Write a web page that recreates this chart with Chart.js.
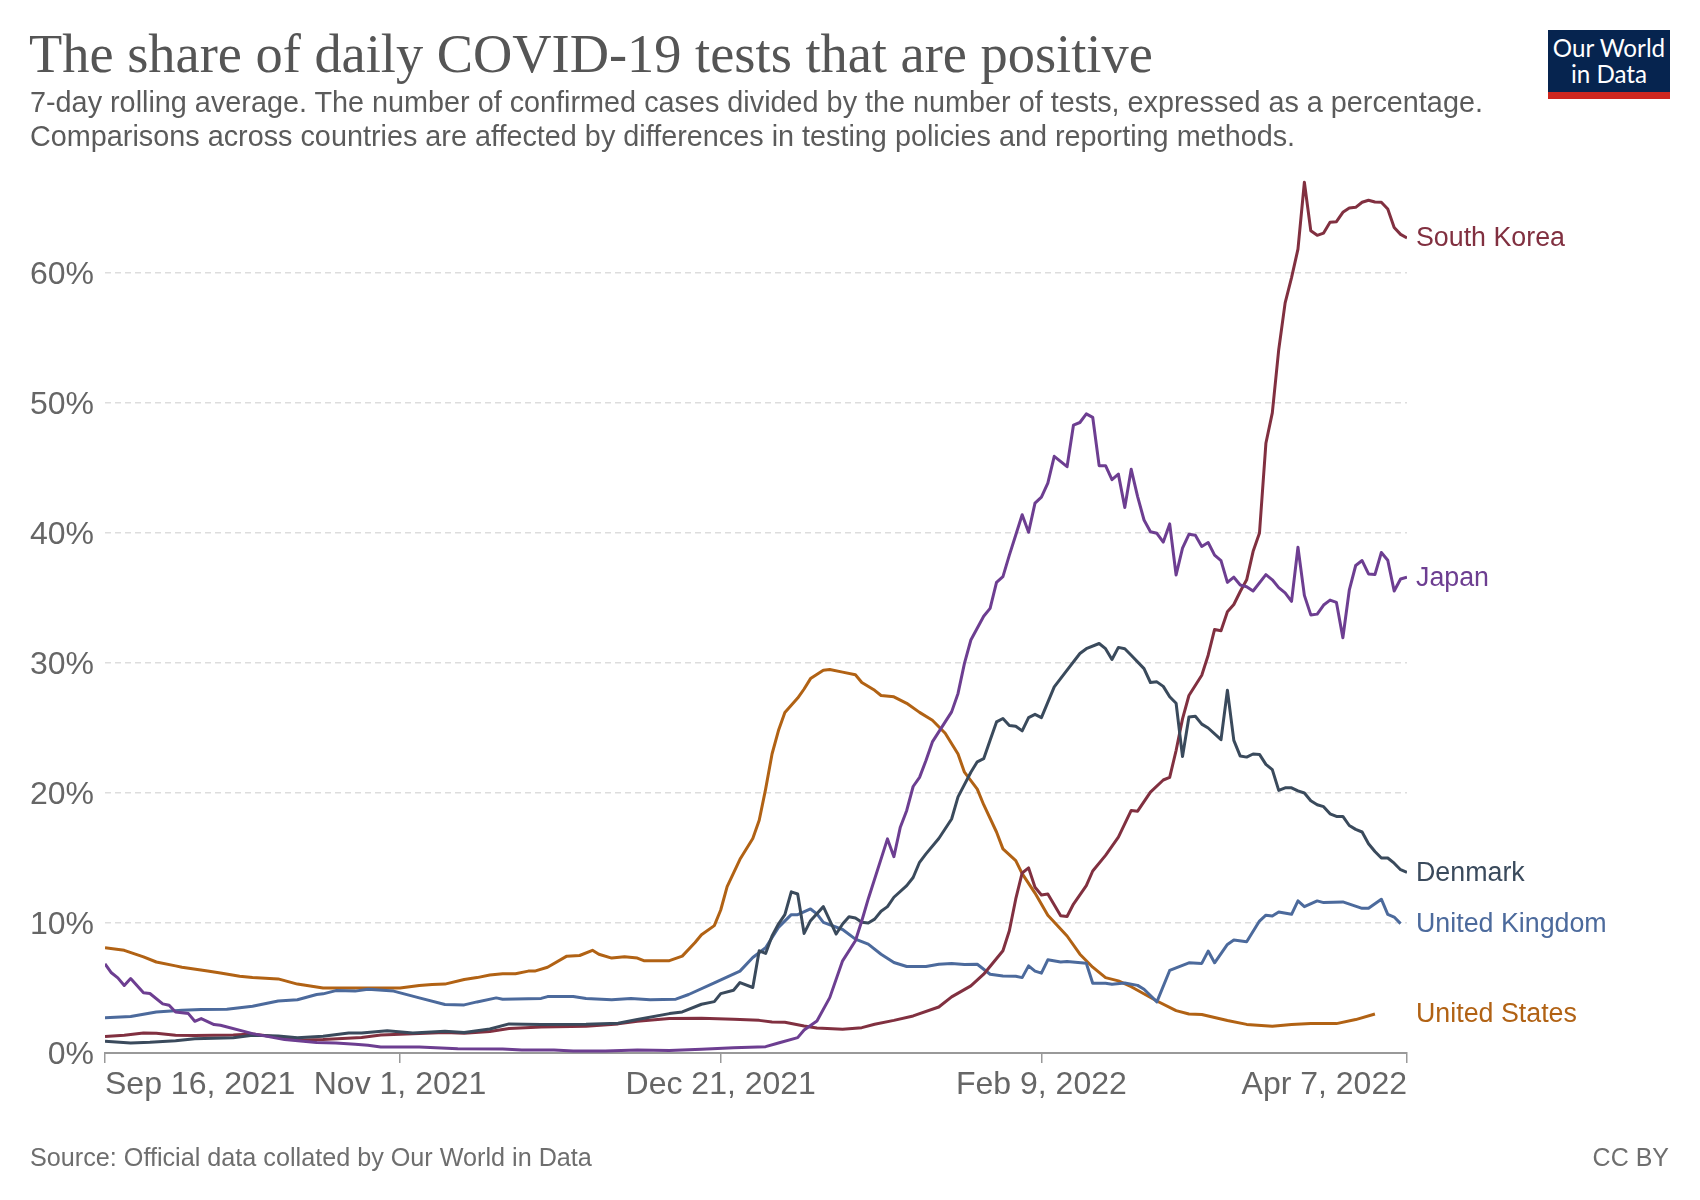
<!DOCTYPE html>
<html>
<head>
<meta charset="utf-8">
<title>The share of daily COVID-19 tests that are positive</title>
<script src="https://cdn.jsdelivr.net/npm/chart.js@4/dist/chart.umd.min.js"></script>
<style>
  body { margin: 0; background: #fff; font-family: "Liberation Sans", Arial, sans-serif; }
  #wrap { position: relative; width: 1700px; height: 1200px; overflow: hidden; }
  #wrap div { position: absolute; white-space: nowrap; }
  #chart { position: absolute; left: 0; top: 0; }
  #title { left: 29px; top: 24px; font: 54.4px/60px "Liberation Serif", serif; color: #555; }
  .sub { left: 30px; font-size: 28.8px; line-height: 34px; color: #5b5b5b; }
  #logo { left: 1548px; top: 30px; width: 122px; height: 69px; background: #06244f; }
  #logo-text { left: 0; top: 5px; width: 122px; text-align: center; color: #fff; font-family: Lato, sans-serif; font-size: 24.2px; line-height: 26px; }
  #logo-bar { left: 0; top: 62px; width: 122px; height: 7px; background: #ce261e; }
  #source { left: 30px; top: 1142px; font-size: 25.2px; line-height: 30px; color: #6e6e6e; }
  #license { right: 31px; top: 1142px; font-size: 25px; line-height: 30px; color: #6e6e6e; }
</style>
</head>
<body>
<div id="wrap">
  <canvas id="chart" width="1700" height="1200"></canvas>
  <div id="title">The share of daily COVID-19 tests that are positive</div>
  <div class="sub" style="top:85px">7-day rolling average. The number of confirmed cases divided by the number of tests, expressed as a percentage.</div>
  <div class="sub" style="top:119px">Comparisons across countries are affected by differences in testing policies and reporting methods.</div>
  <div id="logo">
    <div id="logo-text">Our World<br>in Data</div>
    <div id="logo-bar"></div>
  </div>
  <div id="source">Source: Official data collated by Our World in Data</div>
  <div id="license">CC BY</div>
</div>
<script>
// x values are days since Sep 16, 2021
const tickDays = [0, 46, 96, 146, 203];
const tickLabels = ["Sep 16, 2021", "Nov 1, 2021", "Dec 21, 2021", "Feb 9, 2022", "Apr 7, 2022"];
const yTicks = [0, 10, 20, 30, 40, 50, 60];

const japanDays = [0, 1, 2, 3, 4, 6, 7, 9, 10, 11, 13, 14, 15, 17, 18, 23, 28, 33, 36, 39, 41, 43, 49, 55, 62, 65, 70, 73, 78, 83, 88, 93, 98, 103, 105, 108, 109, 111, 113, 115, 117, 118, 119, 122, 123, 124, 125, 126, 127, 128, 129, 132, 133, 134, 135, 137, 138, 139, 140, 141, 142, 143, 144, 145, 146, 147, 148, 150, 151, 152, 153, 154, 155, 156, 157, 158, 159, 160, 161, 162, 163, 164, 165, 166, 167, 168, 169, 170, 171, 172, 173, 174, 175, 176, 177, 178, 179, 181, 182, 183, 184, 185, 186, 187, 188, 189, 190, 191, 192, 193, 194, 195, 196, 197, 198, 199, 200, 201, 202, 203];
const japanValues = [6.86, 6.17, 5.78, 5.19, 5.73, 4.63, 4.58, 3.78, 3.68, 3.16, 3.03, 2.44, 2.65, 2.19, 2.13, 1.49, 1.03, 0.8, 0.77, 0.67, 0.59, 0.46, 0.46, 0.33, 0.31, 0.23, 0.23, 0.15, 0.15, 0.23, 0.2, 0.28, 0.41, 0.49, 0.77, 1.18, 1.77, 2.46, 4.26, 7.09, 8.63, 10.17, 11.85, 16.47, 15.1, 17.37, 18.66, 20.5, 21.2, 22.5, 23.93, 26.24, 27.66, 29.97, 31.77, 33.6, 34.2, 36.2, 36.64, 38.3, 39.85, 41.4, 40.06, 42.3, 42.76, 43.84, 45.9, 45.1, 48.3, 48.5, 49.16, 48.9, 45.18, 45.18, 44.1, 44.53, 41.96, 44.9, 42.8, 41, 40.1, 39.98, 39.3, 40.7, 36.77, 38.83, 39.9, 39.83, 38.96, 39.27, 38.3, 37.88, 36.2, 36.6, 36, 35.87, 35.54, 36.8, 36.4, 35.8, 35.4, 34.74, 38.9, 35.2, 33.7, 33.76, 34.46, 34.84, 34.66, 31.94, 35.6, 37.5, 37.88, 36.85, 36.8, 38.5, 37.9, 35.54, 36.46, 36.6];

const denmarkDays = [0, 4, 7, 11, 14, 20, 23, 27, 30, 34, 38, 40, 44, 48, 53, 56, 60, 63, 68, 75, 80, 83, 88, 90, 93, 95, 96, 98, 99, 101, 102, 103, 104, 105, 106, 107, 108, 109, 110, 112, 114, 115, 116, 117, 118, 119, 120, 121, 122, 123, 125, 126, 127, 128, 130, 132, 133, 135, 136, 137, 138, 139, 140, 141, 142, 143, 144, 145, 146, 148, 150, 152, 153, 155, 156, 157, 158, 159, 160, 162, 163, 164, 165, 166, 167, 168, 169, 170, 171, 172, 174, 175, 176, 177, 178, 179, 180, 181, 182, 183, 184, 185, 186, 187, 188, 189, 190, 191, 192, 193, 194, 195, 196, 197, 198, 199, 200, 201, 202, 203];
const denmarkValues = [0.9, 0.77, 0.82, 0.95, 1.1, 1.18, 1.36, 1.31, 1.18, 1.29, 1.54, 1.54, 1.72, 1.54, 1.67, 1.57, 1.85, 2.24, 2.19, 2.21, 2.29, 2.57, 3.03, 3.16, 3.75, 3.95, 4.57, 4.83, 5.42, 5.04, 7.86, 7.66, 9, 9.92, 10.64, 12.4, 12.23, 9.2, 10.18, 11.26, 9.15, 9.92, 10.48, 10.38, 10.05, 10, 10.3, 10.9, 11.26, 11.98, 12.87, 13.5, 14.67, 15.32, 16.5, 18, 19.7, 21.6, 22.4, 22.64, 24.06, 25.47, 25.73, 25.2, 25.14, 24.78, 25.8, 26.05, 25.8, 28.16, 29.45, 30.73, 31.1, 31.5, 31.1, 30.27, 31.2, 31.1, 30.6, 29.57, 28.5, 28.55, 28.2, 27.4, 26.9, 22.8, 25.85, 25.9, 25.3, 25, 24.1, 27.9, 24.05, 22.84, 22.76, 23, 22.97, 22.2, 21.8, 20.2, 20.4, 20.4, 20.16, 20, 19.4, 19.1, 18.95, 18.4, 18.2, 18.2, 17.5, 17.2, 17, 16.1, 15.5, 15, 15, 14.6, 14.1, 13.9];

const koreaDays = [0, 3, 6, 8, 11, 14, 20, 23, 28, 31, 34, 40, 43, 48, 53, 56, 60, 63, 68, 75, 80, 83, 88, 93, 98, 102, 104, 106, 109, 111, 115, 118, 120, 123, 126, 130, 132, 135, 137, 140, 141, 142, 143, 144, 145, 146, 147, 149, 150, 151, 153, 154, 156, 158, 160, 161, 163, 165, 166, 167, 168, 169, 171, 172, 173, 174, 175, 176, 177, 178, 179, 180, 181, 182, 183, 184, 185, 186, 187, 188, 189, 190, 191, 192, 193, 194, 195, 196, 197, 198, 199, 200, 201, 202, 203];
const koreaValues = [1.26, 1.36, 1.54, 1.52, 1.36, 1.34, 1.39, 1.47, 1.16, 1, 1.03, 1.2, 1.39, 1.49, 1.57, 1.52, 1.65, 1.88, 2, 2.06, 2.24, 2.44, 2.65, 2.67, 2.59, 2.51, 2.39, 2.36, 2.08, 1.93, 1.82, 1.95, 2.21, 2.51, 2.85, 3.54, 4.32, 5.16, 6.06, 7.86, 9.4, 11.85, 13.85, 14.24, 12.75, 12.16, 12.23, 10.56, 10.5, 11.46, 12.87, 14, 15.2, 16.6, 18.66, 18.6, 20.07, 21, 21.2, 23.27, 25.7, 27.5, 29.06, 30.6, 32.58, 32.48, 33.94, 34.5, 35.5, 36.4, 38.57, 40, 46.9, 49.24, 54.1, 57.7, 59.65, 61.84, 66.98, 63.25, 62.9, 63.07, 63.9, 63.95, 64.67, 65, 65.05, 65.44, 65.6, 65.46, 65.44, 64.92, 63.5, 62.97, 62.7];

const ukDays = [0, 4, 8, 12, 15, 19, 23, 27, 30, 33, 34, 36, 39, 41, 45, 49, 53, 56, 58, 61, 62, 68, 69, 73, 75, 79, 82, 85, 89, 91, 95, 99, 101, 103, 105, 107, 108, 110, 111, 112, 115, 117, 119, 121, 123, 125, 128, 130, 132, 134, 136, 138, 140, 142, 143, 144, 145, 146, 147, 149, 150, 153, 154, 156, 157, 159, 161, 162, 164, 166, 169, 171, 172, 173, 175, 176, 178, 180, 181, 182, 183, 185, 186, 187, 189, 190, 193, 196, 197, 199, 200, 201, 202];
const ukValues = [2.72, 2.8, 3.16, 3.29, 3.34, 3.37, 3.6, 4, 4.1, 4.5, 4.55, 4.8, 4.76, 4.9, 4.76, 4.24, 3.73, 3.7, 3.93, 4.24, 4.14, 4.2, 4.34, 4.34, 4.2, 4.1, 4.2, 4.09, 4.14, 4.5, 5.4, 6.3, 7.35, 8.1, 9.66, 10.64, 10.64, 11.08, 10.7, 10.05, 9.5, 8.76, 8.37, 7.6, 6.96, 6.65, 6.65, 6.83, 6.88, 6.8, 6.83, 6.06, 5.93, 5.9, 5.8, 6.7, 6.3, 6.14, 7.17, 7, 7.04, 6.9, 5.37, 5.37, 5.29, 5.39, 5.2, 4.9, 3.93, 6.35, 6.94, 6.89, 7.84, 6.94, 8.35, 8.69, 8.56, 10.15, 10.6, 10.54, 10.85, 10.67, 11.7, 11.26, 11.7, 11.57, 11.62, 11.13, 11.13, 11.83, 10.67, 10.46, 9.95];

const usDays = [0, 3, 6, 8, 11, 12, 16, 18, 21, 23, 27, 30, 34, 39, 43, 46, 49, 51, 53, 56, 58, 60, 62, 64, 66, 67, 69, 72, 74, 76, 77, 79, 81, 83, 84, 88, 90, 92, 93, 95, 96, 97, 99, 101, 102, 103, 104, 105, 106, 108, 109, 110, 112, 113, 115, 117, 118, 120, 121, 123, 125, 127, 129, 131, 133, 134, 136, 137, 139, 140, 142, 143, 145, 147, 150, 152, 154, 156, 158, 160, 164, 167, 169, 171, 175, 178, 182, 185, 188, 192, 195, 198];
const usValues = [8.1, 7.9, 7.4, 7, 6.7, 6.6, 6.3, 6.15, 5.9, 5.8, 5.7, 5.3, 5, 5, 5, 5, 5.2, 5.27, 5.3, 5.65, 5.8, 6, 6.1, 6.1, 6.3, 6.3, 6.6, 7.45, 7.5, 7.9, 7.6, 7.3, 7.4, 7.3, 7.1, 7.1, 7.45, 8.5, 9.1, 9.8, 11, 12.8, 14.9, 16.5, 17.9, 20.3, 23, 24.8, 26.2, 27.3, 28, 28.8, 29.45, 29.5, 29.3, 29.1, 28.5, 27.9, 27.5, 27.4, 26.9, 26.2, 25.6, 24.6, 23, 21.6, 20.3, 19.1, 17, 15.7, 14.8, 13.8, 12.3, 10.6, 9, 7.6, 6.6, 5.8, 5.55, 5.1, 4, 3.26, 3, 2.96, 2.5, 2.2, 2.06, 2.19, 2.26, 2.26, 2.57, 3];

const names = ["Japan", "Denmark", "South Korea", "United Kingdom", "United States"];
const colors = ["#6d3e91", "#3a4a5c", "#813040", "#4c6a9c", "#b16214"];

function toPoints(days, values) {
  return days.map((d, i) => ({ x: d, y: values[i] }));
}

const allSeries = [
  toPoints(japanDays, japanValues),
  toPoints(denmarkDays, denmarkValues),
  toPoints(koreaDays, koreaValues),
  toPoints(ukDays, ukValues),
  toPoints(usDays, usValues)
];

// axis labels need their own alignment, and the series names follow the last value
const labelsPlugin = {
  id: "labels",
  afterDraw(chart) {
    const { ctx, chartArea, scales } = chart;
    ctx.save();
    ctx.font = '32px "Liberation Sans"';
    ctx.fillStyle = "#666";
    ctx.textBaseline = "alphabetic";
    tickDays.forEach((d, i) => {
      ctx.textAlign = i === 0 ? "left" : i === tickDays.length - 1 ? "right" : "center";
      ctx.fillText(tickLabels[i], scales.x.getPixelForValue(d), 1094);
    });
    ctx.textAlign = "right";
    yTicks.forEach((v) => {
      ctx.fillText(v + "%", chartArea.left - 11, scales.y.getPixelForValue(v) + 11);
    });
    ctx.font = '26.8px "Liberation Sans"';
    ctx.textAlign = "left";
    ctx.textBaseline = "middle";
    allSeries.forEach((points, i) => {
      const last = points[points.length - 1];
      ctx.fillStyle = colors[i];
      ctx.fillText(names[i], chartArea.right + 9, scales.y.getPixelForValue(last.y) + 1);
    });
    ctx.restore();
  }
};

new Chart(document.getElementById("chart"), {
  type: "line",
  data: {
    datasets: allSeries.map((points, i) => ({
      label: names[i],
      data: points,
      borderColor: colors[i],
      borderWidth: 3,
      pointRadius: 0,
      tension: 0,
      borderJoinStyle: "round"
    }))
  },
  options: {
    responsive: false,
    animation: false,
    devicePixelRatio: 1,
    parsing: false,
    layout: { padding: { top: 169, right: 293, bottom: 0, left: 0 } },
    plugins: { legend: { display: false }, title: { display: false }, tooltip: { enabled: false } },
    scales: {
      x: {
        type: "linear",
        min: 0,
        max: 203,
        afterBuildTicks(scale) { scale.ticks = tickDays.map((d) => ({ value: d })); },
        afterFit(scale) { scale.height = 147; },
        ticks: { display: false },
        grid: { drawOnChartArea: false, drawTicks: true, tickLength: 10, color: "#999", lineWidth: 1.5 },
        border: { color: "#999", width: 2 }
      },
      y: {
        min: 0,
        max: 68,
        afterBuildTicks(scale) { scale.ticks = yTicks.map((v) => ({ value: v })); },
        afterFit(scale) { scale.width = 105; },
        ticks: { display: false },
        grid: {
          color: (c) => (c.tick.value === 0 ? "rgba(0,0,0,0)" : "#ddd"),
          lineWidth: 1.6,
          drawTicks: false
        },
        border: { display: false, dash: [6, 4] }
      }
    }
  },
  plugins: [labelsPlugin]
});
</script>
</body>
</html>
